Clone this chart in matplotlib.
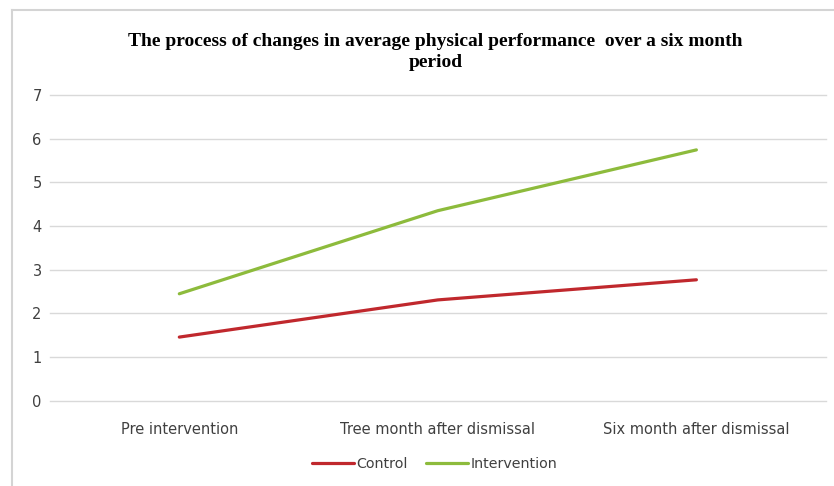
import matplotlib.pyplot as plt
from matplotlib.lines import Line2D

# data
categories = ["Pre intervention", "Tree month after dismissal", "Six month after dismissal"]
control = [1.46, 2.31, 2.77]
intervention = [2.45, 4.35, 5.74]
y_ticks = [0, 1, 2, 3, 4, 5, 6, 7]

fig = plt.figure(figsize=(8.34, 4.86), dpi=100)
ax = fig.add_axes([0.06, 0.175, 0.93, 0.63])

x = list(range(len(categories)))
ax.plot(x, control, color="#c0282d", linewidth=2.3, label="Control",
        solid_capstyle="round")
ax.plot(x, intervention, color="#8dbb3c", linewidth=2.3, label="Intervention",
        solid_capstyle="round")

ax.set_xlim(-0.5, len(categories) - 0.5)
ax.set_ylim(0, 7)
ax.set_yticks(y_ticks)
ax.set_xticks(x)
ax.set_xticklabels(categories)
ax.grid(axis="y", color="#d9d9d9", linewidth=1)
for gl in ax.get_ygridlines():
    gl.set_clip_on(False)
ax.set_axisbelow(True)
for s in ax.spines.values():
    s.set_visible(False)
ax.tick_params(length=0, labelsize=10.5, labelcolor="#404040")
ax.tick_params(axis="x", pad=15)
ax.tick_params(axis="y", pad=6)

fig.text(0.522, 0.893, "The process of changes in average physical performance  over a six month\nperiod",
         ha="center", va="center", fontsize=14, fontweight="bold",
         family="Liberation Serif", linespacing=1.35)

ax.legend(loc="upper center", bbox_to_anchor=(0.496, -0.14), ncol=2, frameon=False,
          fontsize=10.3, handlelength=2.9, handletextpad=0.2, columnspacing=1.3,
          labelcolor="#404040")

# chart area border (left and top edges visible)
fig.add_artist(Line2D([12 / 834, 12 / 834], [0, 1 - 10 / 486], transform=fig.transFigure,
                      color="#d4d4d4", linewidth=1.5))
fig.add_artist(Line2D([12 / 834, 1], [1 - 10 / 486, 1 - 10 / 486], transform=fig.transFigure,
                      color="#d4d4d4", linewidth=1.5))

fig.savefig("out.png", dpi=100)
